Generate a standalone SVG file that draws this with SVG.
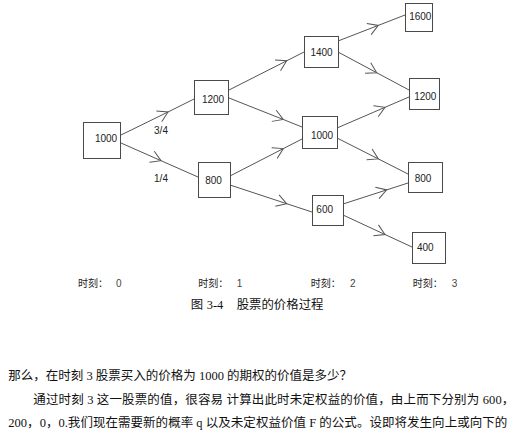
<svg xmlns="http://www.w3.org/2000/svg" width="518" height="440" viewBox="0 0 518 440">
<style>
.box{fill:#fff;stroke:#4a4a4a;stroke-width:1}
.num{font-family:"Liberation Sans",sans-serif;font-size:10px;fill:#222;text-anchor:middle}
.edge{fill:none;stroke:#555;stroke-width:1;marker-mid:url(#chev)}
.prob{font-family:"Liberation Sans",sans-serif;font-size:10px;fill:#222;text-anchor:middle}
.tl{font-family:"Noto Sans CJK SC",sans-serif;font-size:10px;fill:#222}
.tn{font-family:"Liberation Sans",sans-serif;font-size:10px;fill:#444}
.cap{font-family:"Noto Sans CJK SC",sans-serif;font-size:12.4px;fill:#111}
.capn{font-family:"Liberation Serif",serif;font-size:12.4px;fill:#111}
.para{font-family:"Liberation Serif","Noto Sans CJK SC",serif;font-size:12.5px;fill:#111}
</style>
<defs>
<marker id="chev" markerUnits="userSpaceOnUse" markerWidth="24" markerHeight="24" viewBox="-12 -12 24 24" refX="0" refY="0" orient="auto">
<path d="M-10,-6 L0,0 L-10,6" fill="none" stroke="#555" stroke-width="1"/>
</marker>
</defs>
<g id="connectors">
<path class="edge" d="M121,135 L168,112 L194,99"/>
<path class="edge" d="M121,143 L161,160.7 L198,177"/>
<path class="edge" d="M229,90 L286.7,60.8 L304,52"/>
<path class="edge" d="M229,98 L283.3,119.5 L302,127"/>
<path class="edge" d="M230,176 L283.3,148.6 L302,139"/>
<path class="edge" d="M230,185 L286.7,203.7 L312,212"/>
<path class="edge" d="M338,41 L378.3,25.4 L405,15"/>
<path class="edge" d="M338,52 L376.7,72.7 L409,90"/>
<path class="edge" d="M337,128 L385,107.3 L409,97"/>
<path class="edge" d="M337,138 L378.3,158.9 L408,174"/>
<path class="edge" d="M343,204 L386.7,189.9 L408,183"/>
<path class="edge" d="M343,215 L385,234.5 L412,247"/>
<text class="prob" x="161" y="134">3/4</text>
<text class="prob" x="161" y="182">1/4</text>
</g>
<g id="n1000"><rect class="box" x="83.5" y="122.5" width="37" height="36"/><text class="num" x="106" y="141.5">1000</text></g>
<g id="n1200a"><rect class="box" x="194.5" y="80.5" width="34" height="34"/><text class="num" x="213" y="103">1200</text></g>
<g id="n800a"><rect class="box" x="198.5" y="162.5" width="32" height="35"/><text class="num" x="213.5" y="184">800</text></g>
<g id="n1400"><rect class="box" x="304.5" y="36.5" width="34" height="31"/><text class="num" x="321.5" y="56">1400</text></g>
<g id="n1000b"><rect class="box" x="302.5" y="116.5" width="35" height="32"/><text class="num" x="322" y="139">1000</text></g>
<g id="n600"><rect class="box" x="312.5" y="195.5" width="31" height="30"/><text class="num" x="324.7" y="213">600</text></g>
<g id="n1600"><rect class="box" x="405.5" y="3.5" width="27" height="28"/><text class="num" x="420.3" y="20">1600</text></g>
<g id="n1200b"><rect class="box" x="409.5" y="78.5" width="30" height="31"/><text class="num" x="425.3" y="100">1200</text></g>
<g id="n800b"><rect class="box" x="408.5" y="162.5" width="34" height="30"/><text class="num" x="423" y="181.7">800</text></g>
<g id="n400"><rect class="box" x="412.5" y="232.5" width="33" height="31"/><text class="num" x="425.3" y="251">400</text></g>
<g id="timeline">
<text x="78" y="286.5"><tspan class="tl">时刻：</tspan><tspan class="tn" x="116">0</tspan></text>
<text x="198.3" y="286.5"><tspan class="tl">时刻：</tspan><tspan class="tn" x="236.7">1</tspan></text>
<text x="310.7" y="286.5"><tspan class="tl">时刻：</tspan><tspan class="tn" x="350">2</tspan></text>
<text x="412.7" y="286.5"><tspan class="tl">时刻：</tspan><tspan class="tn" x="451.7">3</tspan></text>
</g>
<text y="309"><tspan class="cap" x="190.7">图</tspan><tspan class="capn" x="206.7">3-4</tspan><tspan class="cap" x="236.7">股票的价格过程</tspan></text>
<text class="para" x="8.3" y="380">那么，在时刻 3 股票买入的价格为 1000 的期权的价值是多少？</text>
<text class="para" x="33.3" y="403.5" textLength="481" lengthAdjust="spacing">通过时刻 3 这一股票的值，很容易 计算出此时未定权益的价值，由上而下分别为 600，</text>
<text class="para" x="8.3" y="427" textLength="499" lengthAdjust="spacing">200，0，0.我们现在需要新的概率 q 以及未定权益价值 F 的公式。设即将发生向上或向下的</text>
</svg>
